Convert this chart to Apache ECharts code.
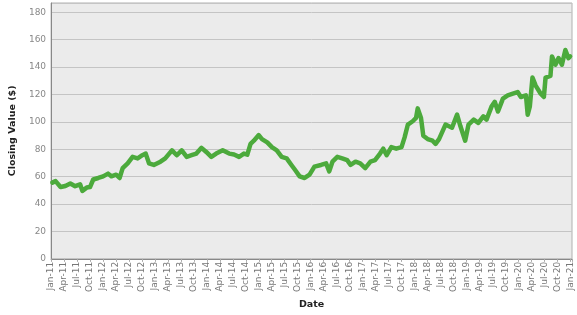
<!DOCTYPE html>
<html>
<head>
<meta charset="utf-8">
<script src="https://cdn.jsdelivr.net/npm/echarts@6/dist/echarts.min.js"></script>
<style>
html,body{margin:0;padding:0;background:#fff;}
#chart{width:577px;height:315px;}
</style>
</head>
<body>
<div id="chart"></div>
<script>
// Dates of the sampled closing values
var dates = [
 '2011-01-10','2011-02-02','2011-03-07','2011-04-10','2011-05-15','2011-06-18','2011-07-23','2011-08-08',
 '2011-09-08','2011-10-01','2011-10-24','2011-11-28','2012-01-02','2012-02-06','2012-02-28','2012-04-02',
 '2012-04-26','2012-05-18','2012-06-22','2012-07-27','2012-09-01','2012-10-04','2012-10-28','2012-11-20',
 '2012-12-24','2013-02-09','2013-03-13','2013-04-29','2013-06-03','2013-07-07','2013-08-12','2013-09-15',
 '2013-10-19','2013-11-24','2013-12-28','2014-02-02','2014-03-06','2014-04-21','2014-06-06','2014-07-10',
 '2014-08-15','2014-09-18','2014-10-12','2014-11-04','2014-11-27','2015-01-01','2015-01-24','2015-02-28',
 '2015-04-02','2015-05-06','2015-06-10','2015-07-15','2015-08-18','2015-09-12','2015-10-15','2015-11-19',
 '2015-12-24','2016-01-28','2016-03-13','2016-04-18','2016-05-10','2016-06-02','2016-07-06','2016-08-10',
 '2016-09-14','2016-10-08','2016-11-12','2016-12-15','2017-01-20','2017-02-24','2017-03-28','2017-05-02',
 '2017-05-25','2017-06-18','2017-07-21','2017-08-25','2017-10-01','2017-10-23','2017-11-15','2017-12-19',
 '2018-01-12','2018-01-24','2018-02-15','2018-03-02','2018-04-02','2018-05-06','2018-05-28','2018-06-21',
 '2018-08-06','2018-09-21','2018-10-27','2018-11-19','2018-12-23','2019-01-16','2019-02-20','2019-03-24',
 '2019-04-28','2019-05-21','2019-06-25','2019-07-18','2019-08-10','2019-09-14','2019-10-18','2019-11-23',
 '2019-12-27','2020-01-19','2020-02-23','2020-03-06','2020-03-21','2020-04-09','2020-05-01','2020-06-06',
 '2020-06-28','2020-07-10','2020-08-14','2020-08-25','2020-09-18','2020-10-10','2020-11-03','2020-11-27',
 '2020-12-19','2020-12-31'
];
// Closing values ($)
var closingValues = [
 55.6,56.7,52.4,53.2,55.0,53.0,54.4,49.6,
 52.0,52.4,57.9,59.0,60.2,62.2,60.2,61.4,
 59.0,66.2,69.7,74.4,73.3,75.6,76.8,69.7,
 68.5,70.9,73.3,79.2,75.6,79.2,74.4,75.6,
 76.8,81.0,78.0,74.4,76.8,79.2,76.8,76.1,
 74.4,76.8,76.0,83.9,86.2,90.3,87.4,85.0,
 81.5,79.2,74.4,73.3,68.5,65.0,60.2,59.0,
 61.4,67.3,68.5,69.7,63.8,70.9,74.4,73.3,
 72.0,68.5,70.9,69.7,66.2,70.9,72.0,76.8,
 80.4,75.6,81.5,80.4,81.5,88.6,98.0,100.4,
 102.8,109.8,102.8,89.8,87.4,86.2,83.9,87.4,
 98.0,95.7,105.2,96.9,86.2,98.0,101.6,99.2,
 104.0,101.6,111.1,114.6,107.5,116.9,119.3,120.5,
 121.7,118.1,119.3,105.2,111.0,132.3,126.4,120.5,
 118.1,132.3,133.5,147.7,141.7,146.5,141.7,152.4,
 146.5,147.7
];
// X tick labels, every 3 months from Jan-11
var tickLabels = [
 'Jan-11','Apr-11','Jul-11','Oct-11','Jan-12','Apr-12','Jul-12','Oct-12',
 'Jan-13','Apr-13','Jul-13','Oct-13','Jan-14','Apr-14','Jul-14','Oct-14',
 'Jan-15','Apr-15','Jul-15','Oct-15','Jan-16','Apr-16','Jul-16','Oct-16',
 'Jan-17','Apr-17','Jul-17','Oct-17','Jan-18','Apr-18','Jul-18','Oct-18',
 'Jan-19','Apr-19','Jul-19','Oct-19','Jan-20','Apr-20','Jul-20','Oct-20','Jan-21'
];
var yTicks = [0,20,40,60,80,100,120,140,160,180];

function monthOffset(s){
  var p = s.split('-');
  var y = +p[0], m = +p[1], d = +p[2];
  var dim = new Date(y, m, 0).getDate();
  return (y-2011)*12 + (m-1) + (d-1)/dim;
}
var seriesData = dates.map(function(d,i){ return [monthOffset(d), closingValues[i]]; });

var FONT = 'DejaVu Sans';
var chart = echarts.init(document.getElementById('chart'), null, {renderer:'canvas'});
chart.setOption({
  animation:false,
  backgroundColor:'#ffffff',
  grid:{left:42, right:5, top:3, bottom:48, show:true, backgroundColor:'#ebebeb', borderColor:'#b0b0b0', borderWidth:1},
  xAxis:{
    type:'value', min:0, max:120.4, interval:3,
    name:'Date', nameLocation:'middle', nameGap:34,
    nameTextStyle:{fontFamily:FONT, fontWeight:'bold', fontSize:9.5, color:'#222'},
    axisLine:{show:true, onZero:false, lineStyle:{color:'#888', width:1}},
    axisTick:{show:true, length:3, lineStyle:{color:'#aaa'}},
    splitLine:{show:false},
    axisLabel:{rotate:90, fontFamily:FONT, fontSize:9, color:'#777', margin:3,
      showMaxLabel:true,
      formatter:function(v){ var i = Math.round(v/3); return (Math.abs(v-i*3)<1e-6 && tickLabels[i]) ? tickLabels[i] : ''; }}
  },
  yAxis:{
    type:'value', min:0, max:186.7, interval:20,
    name:'Closing Value ($)', nameLocation:'middle', nameGap:24,
    nameTextStyle:{fontFamily:FONT, fontWeight:'bold', fontSize:9.5, color:'#222'},
    axisLine:{show:true, lineStyle:{color:'#888', width:1}},
    axisTick:{show:false},
    splitLine:{show:true, lineStyle:{color:'#c4c4c4', width:1}},
    axisLabel:{fontFamily:FONT, fontSize:9, color:'#888', margin:5,
      formatter:function(v){ return yTicks.indexOf(v) >= 0 ? String(v) : ''; }}
  },
  series:[{
    type:'line', data:seriesData, showSymbol:false, smooth:false,
    lineStyle:{color:'#4caa3c', width:4.5, join:'round', cap:'round'},
    itemStyle:{color:'#4caa3c'}
  }]
});
</script>
</body>
</html>
